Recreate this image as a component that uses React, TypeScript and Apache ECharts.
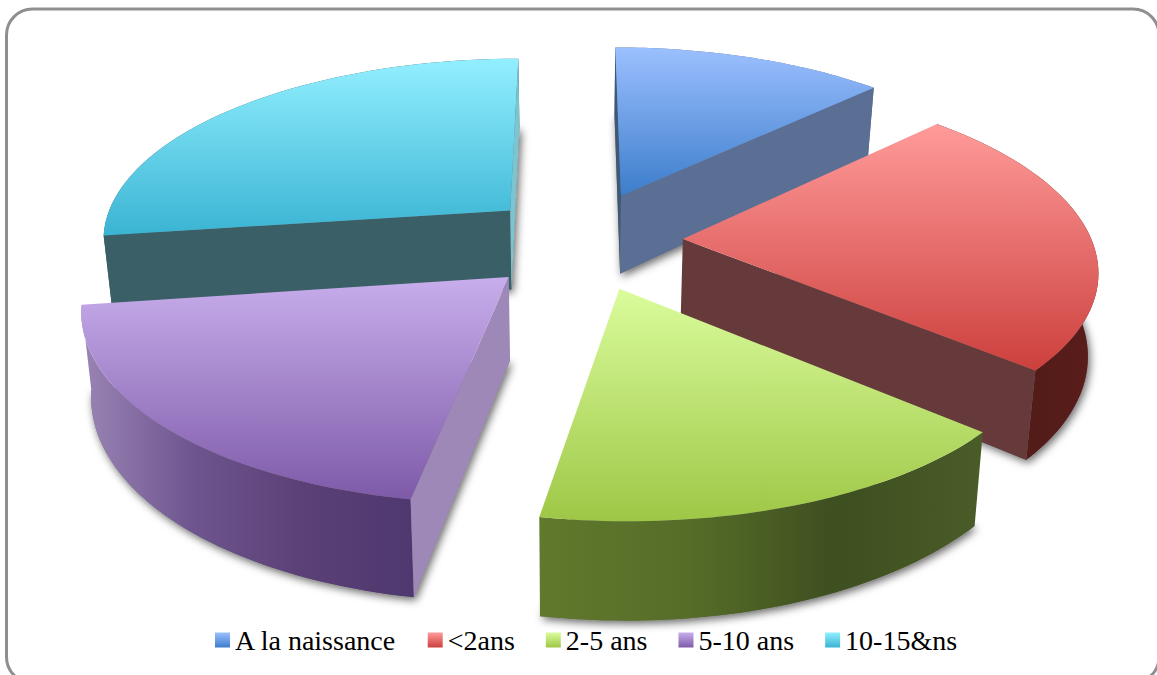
import React, { useEffect, useRef } from "react";
import * as echarts from "echarts";

// Age at onset, share of cases per class
const categories = ["A la naissance", "<2ans", "2-5 ans", "5-10 ans", "10-15&ns"];
const shares = [12.64, 23.75, 16.41, 19.94, 27.26];

// Painting order of the slices, from the back of the pie to the front
const paintOrder = [0, 4, 1, 3, 2];

// How far each slice is pulled out of the pie [right, back], in pie radii
const explode = [
  [0.115, 0.25],
  [0.26, 0.005],
  [0.103, -0.255],
  [-0.155, -0.195],
  [-0.16, 0.165],
];
const radii = [0.99, 0.985, 0.99, 0.985, 0.99];

const topColors = [
  ["#9CC0FF", "#3C7DCB"],
  ["#FF9B9A", "#CC403D"],
  ["#DAFC9C", "#9EC746"],
  ["#C8AEEC", "#7E5AA8"],
  ["#92EFFF", "#3AB4D3"],
];
const startWallColors = ["#3E5878", "#663A3A", "#5F7A2B", "#9E88B8", "#3A5F66"];
const endWallColors = ["#5B6E94", "#663A3A", "#5F7A2B", "#4F3870", "#7CC5D0"];
const rimColors = [
  ["#5B6E94", "#5B6E94", "#5B6E94", "#5B6E94"],
  ["#521A18", "#531B18", "#541C19", "#5A1D1A"],
  ["#60792C", "#566D28", "#3E4F20", "#4A5C27"],
  ["#9A85B5", "#6F558F", "#5A4075", "#4F3870"],
  ["#3A5F66", "#3A5F66", "#3A5F66", "#3A5F66"],
];

// Perspective of the pie's top plane
const VIEW = { x: 575, y: 240, a: 415, c: 184, persp: 0.149, thick: 81, shrink: 0.98 };
const ARC_STEPS = 48;

const total = shares.reduce((s, v) => s + v, 0);

function project(X: number, Y: number) {
  const s = 1 / (1 + VIEW.persp * Y);
  return { x: VIEW.x + VIEW.a * X * s, y: VIEW.y - VIEW.c * Y * s, s };
}

// The same ground point on the underside of the pie
function lower(p: { x: number; y: number; s: number }): number[] {
  return [VIEW.x + (p.x - VIEW.x) * VIEW.shrink, p.y + VIEW.thick * p.s];
}

function area(pts: number[][]) {
  let sum = 0;
  pts.forEach((p, i) => {
    const q = pts[(i + 1) % pts.length];
    sum += p[0] * q[1] - q[0] * p[1];
  });
  return sum;
}

function gradient(colors: string[], horizontal: boolean) {
  const stops = colors.map((color, i) => ({ offset: i / (colors.length - 1), color }));
  return new echarts.graphic.LinearGradient(0, 0, horizontal ? 1 : 0, horizontal ? 0 : 1, stops);
}

// Soft shadow cast by the underside of a slice
const SHADOW = {
  fill: "#777",
  shadowBlur: 8,
  shadowColor: "rgba(0,0,0,0.6)",
  shadowOffsetX: 2,
  shadowOffsetY: 3,
};

function sliceRenderer(index: number) {
  return (_params: unknown, api: any) => {
    const value = api.value(0) as number;
    const before = shares.slice(0, index).reduce((s, v) => s + v, 0);
    const from = (before / total) * Math.PI * 2;
    const to = from + (value / total) * Math.PI * 2;
    const [ox, oy] = explode[index];
    const r = radii[index];

    const arc = [];
    for (let i = 0; i <= ARC_STEPS; i++) {
      const t = from + ((to - from) * i) / ARC_STEPS;
      arc.push(project(ox + r * Math.sin(t), oy + r * Math.cos(t)));
    }
    const apex = project(ox, oy);
    const topPts = [apex, ...arc].map((p) => [p.x, p.y]);
    const rimPts = [...arc.map((p) => [p.x, p.y]), ...arc.slice().reverse().map(lower)];
    const underside = [apex, ...arc].map(lower);

    const first = arc[0];
    const last = arc[arc.length - 1];
    const startWall = [[apex.x, apex.y], [first.x, first.y], lower(first), lower(apex)];
    const endWall = [[apex.x, apex.y], [last.x, last.y], lower(last), lower(apex)];

    const poly = (points: number[][], style: object) => ({
      type: "polygon",
      shape: { points },
      style,
    });

    const children = [
      poly(underside, SHADOW),
      poly(rimPts, { fill: gradient(rimColors[index], true) }),
    ];
    if (area(startWall) < 0) children.push(poly(startWall, { fill: startWallColors[index] }));
    if (area(endWall) > 0) children.push(poly(endWall, { fill: endWallColors[index] }));
    children.push(poly(topPts, { fill: gradient(topColors[index], false) }));

    return { type: "group", children };
  };
}

export default function App() {
  const ref = useRef<HTMLDivElement>(null);

  useEffect(() => {
    document.body.style.margin = "0";
    const chart = echarts.init(ref.current!, null, { renderer: "svg" });
    chart.setOption({
      animation: false,
      backgroundColor: "#ffffff",
      graphic: [
        {
          type: "rect",
          z: -10,
          silent: true,
          shape: { x: 6.5, y: 9, width: 1152.5, height: 674, r: 26 },
          style: { fill: "#ffffff", stroke: "#8F8F8F", lineWidth: 3 },
        },
      ],
      legend: {
        left: 210,
        top: 621,
        itemWidth: 15,
        itemHeight: 15,
        itemGap: 31,
        icon: "rect",
        selectedMode: false,
        textStyle: { fontFamily: "Liberation Serif", fontSize: 28, color: "#000000" },
        data: categories.map((name, i) => ({
          name,
          itemStyle: { color: gradient(topColors[i], false) },
        })),
      },
      series: paintOrder.map((i) => ({
        type: "custom",
        name: categories[i],
        coordinateSystem: "none",
        silent: true,
        renderItem: sliceRenderer(i),
        itemStyle: { color: topColors[i][1] },
        data: [[shares[i]]],
      })),
    });
    return () => chart.dispose();
  }, []);

  return <div ref={ref} style={{ width: 1157, height: 675 }} />;
}
